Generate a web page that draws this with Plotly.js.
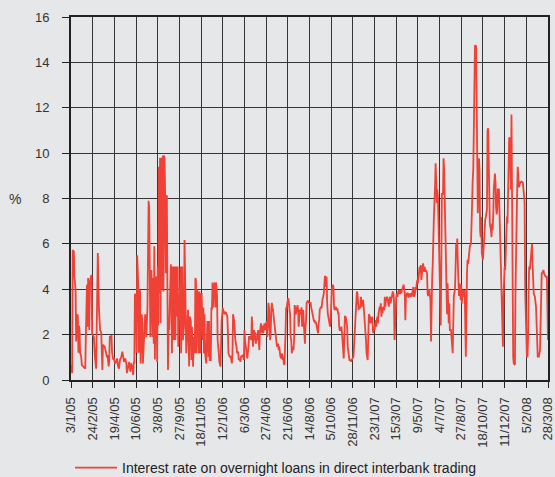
<!DOCTYPE html>
<html>
<head>
<meta charset="utf-8">
<script src="https://cdn.plot.ly/plotly-3.0.1.min.js"></script>
<style>
html,body{margin:0;padding:0;background:#e6e7e8;}
#chart{width:555px;height:477px;}
</style>
</head>
<body>
<div id="chart"></div>
<script>
// Trading-day index (0 = 3/1/05, 836 = 28/3/08)
const tradingDay = [0,2,3,5,6,8,9,11,12,13,14,15,16,18,19,22,25,26,27,28,29,30,32,33,35,36,37,40,42,44,45,46,47,49,51,53,55,56,59,61,63,64,66,67,68,71,72,74,75,77,79,81,82,84,86,88,90,91,93,95,97,98,100,102,104,105,107,109,110,111,112,114,115,116,118,119,121,122,124,125,126,128,130,131,132,134,136,137,138,139,141,143,144,145,146,147,149,150,151,152,153,154,155,156,157,158,159,160,161,162,163,164,165,166,167,168,169,170,171,172,173,174,175,177,178,180,181,183,184,186,187,188,190,192,193,195,196,198,199,201,202,205,207,208,210,211,212,214,215,217,218,219,220,221,222,224,225,226,227,228,229,231,232,233,234,235,237,239,240,241,242,243,245,246,247,248,249,250,252,253,254,255,256,257,259,260,262,263,264,266,267,269,271,274,275,276,278,280,281,282,283,284,286,287,288,290,291,293,294,296,297,298,301,303,304,305,307,309,311,312,314,316,317,318,319,321,322,323,324,325,326,328,329,330,331,332,333,335,336,337,338,339,340,342,343,344,345,346,347,349,350,351,352,353,354,356,357,358,359,360,361,363,364,365,366,367,369,370,371,372,373,374,376,377,378,379,380,381,383,384,385,386,387,389,390,391,392,393,394,396,397,398,399,400,401,403,404,405,406,407,408,410,411,412,413,414,415,417,418,420,421,424,425,426,427,428,429,431,432,433,434,435,436,438,439,440,441,442,443,445,446,447,448,449,450,452,453,454,455,456,457,459,460,461,462,463,464,466,467,468,469,470,471,473,474,475,476,477,478,480,481,482,483,484,485,487,488,490,491,492,494,495,496,497,498,500,501,502,503,504,505,507,508,509,510,511,512,513,515,516,517,518,519,520,522,524,525,527,528,529,530,531,532,534,535,536,537,538,539,541,542,543,544,545,546,547,549,550,551,552,553,554,556,557,558,559,560,561,563,564,565,566,567,569,570,571,572,573,575,576,577,578,579,580,582,583,584,585,586,587,589,590,591,592,593,594,596,597,598,599,600,601,603,604,605,606,607,608,610,611,612,613,614,615,617,618,619,620,621,622,624,625,626,628,630,631,632,633,634,635,636,638,639,640,641,642,643,645,646,647,648,649,650,652,653,654,655,656,657,659,660,661,662,663,664,666,667,668,669,670,671,673,674,675,676,677,678,680,681,682,683,684,685,687,688,689,690,691,692,694,695,696,697,698,699,701,702,703,704,705,706,708,709,710,711,712,713,715,716,717,718,719,720,722,723,724,725,726,727,729,730,731,732,733,734,736,737,738,739,740,741,743,744,745,746,747,748,750,751,752,753,754,755,757,758,759,760,761,762,764,765,766,767,768,769,771,772,773,774,775,776,778,779,780,781,782,783,785,786,787,788,789,790,792,793,794,795,796,797,799,800,801,802,803,804,806,807,808,809,810,811,813,814,815,816,817,818,820,821,822,823,824,825,827,828,829,830,831,832,834,835,836];

// Overnight interbank rate, %
const overnightRate = [0.66,0.3,5.73,5.66,4.56,4.0,1.7,2.9,2.8,1.2,2.4,2.2,1.2,1.0,0.66,0.6,0.5,1.9,3.6,4.2,2.35,4.5,2.2,4.3,4.56,4.63,2.06,1.9,1.0,0.5,2.2,4.85,5.6,3.1,2.2,2.1,0.44,1.55,1.47,1.25,1.0,1.1,0.6,0.8,1.9,1.94,1.2,0.9,1.0,0.73,0.8,0.95,0.66,0.5,0.9,1.0,1.25,1.1,0.8,0.95,0.73,0.3,0.6,0.8,0.37,0.73,0.6,0.22,0.8,0.73,3.8,3.7,1.2,5.5,4.1,1.2,4.0,0.73,2.9,2.5,0.73,2.06,2.9,2.35,1.9,3.2,7.9,7.6,5.1,1.9,4.85,1.9,4.5,1.6,5.9,0.9,4.56,3.7,0.8,5.0,2.4,9.4,3.8,9.8,2.5,9.8,9.1,4.0,9.9,3.9,9.9,9.8,8.2,4.7,8.1,8.1,4.0,0.44,2.35,2.2,3.2,4.2,5.1,1.18,5.0,1.76,5.0,1.76,5.0,2.8,5.0,1.47,2.9,5.0,1.18,5.0,1.76,2.35,6.17,3.2,1.18,3.1,0.6,2.8,2.6,0.88,2.35,0.59,1.9,1.18,4.5,4.4,1.18,4.0,3.8,1.18,3.9,2.9,1.18,3.8,3.8,1.76,3.2,1.18,2.9,1.18,0.73,2.6,2.2,1.03,2.6,0.88,0.88,3.2,3.1,4.3,3.2,4.1,4.3,3.2,4.3,4.1,3.7,1.76,1.18,0.8,0.59,1.47,2.6,3.16,3.1,2.9,3.0,2.8,2.1,1.18,1.03,1.03,0.88,0.73,1.18,2.9,2.6,2.06,1.76,1.47,1.18,1.25,0.88,0.95,0.8,1.03,1.1,0.88,2.2,1.76,1.18,0.95,1.47,1.9,1.9,1.76,2.8,1.76,1.47,2.2,1.76,2.1,1.6,1.9,1.76,2.2,1.47,1.32,2.06,2.35,2.5,2.06,2.4,2.06,2.35,2.5,2.2,2.6,2.6,1.9,2.35,3.4,3.2,1.76,2.06,3.1,3.4,3.2,3.1,2.6,2.35,1.9,1.76,1.47,1.47,1.6,1.32,1.47,1.18,1.03,0.95,1.18,0.88,1.03,0.73,0.66,2.06,3.2,3.1,3.4,3.5,3.6,3.1,2.9,1.9,1.76,1.18,1.47,1.32,1.76,3.3,3.2,2.9,3.2,3.3,3.1,2.35,2.65,3.1,2.9,3.2,2.35,2.9,3.1,2.5,1.6,2.35,2.65,3.4,3.5,3.5,3.4,3.4,3.4,3.2,2.8,2.65,2.57,2.65,2.5,2.57,2.35,2.13,2.06,2.5,2.65,3.1,3.23,3.16,3.5,3.6,3.67,3.8,4.55,4.55,4.1,4.55,3.4,2.94,2.64,2.5,2.35,2.57,3.23,3.97,4.2,4.1,3.23,3.08,3.16,3.23,3.08,3.16,2.94,2.94,2.35,2.2,2.2,2.35,2.06,1.47,0.95,0.95,2.79,2.79,2.72,2.57,2.35,1.47,0.95,0.88,0.88,0.8,0.88,0.95,1.03,1.47,2.13,2.64,3.38,3.9,3.82,3.38,3.08,3.23,3.16,3.67,3.31,3.23,3.38,3.53,3.23,2.64,2.35,1.76,1.18,0.88,0.88,2.9,2.79,2.5,2.64,2.79,2.2,2.06,2.35,2.2,2.64,2.35,2.64,2.79,2.5,2.94,3.23,3.08,3.38,2.79,3.23,2.94,3.23,3.08,3.67,3.23,3.53,3.53,3.67,3.38,3.23,3.53,3.67,3.38,3.5,3.82,3.9,3.82,3.53,1.76,3.67,3.67,3.82,3.67,3.82,3.97,3.82,3.82,3.97,3.82,3.97,4.1,4.2,4.0,3.82,2.64,3.67,3.82,3.82,3.67,3.67,3.82,3.67,3.82,3.67,3.82,3.97,4.1,3.67,3.82,4.1,3.97,4.26,4.41,4.26,4.9,4.99,4.77,5.07,4.41,4.77,5.14,4.99,4.77,4.99,4.77,4.85,4.7,3.82,3.7,4.0,3.5,1.7,4.26,4.5,5.1,6.6,7.2,8.5,9.55,8.8,7.8,8.4,8.1,5.9,3.97,2.5,2.4,5.1,8.2,8.2,9.77,9.25,8.1,6.3,4.85,2.9,4.26,3.23,2.5,3.38,2.2,2.2,1.6,1.3,1.18,2.5,3.7,4.0,5.7,6.0,5.7,6.24,5.1,3.7,4.26,3.7,3.53,4.2,3.38,3.97,3.67,3.67,3.97,2.64,1.03,4.7,5.3,5.1,5.4,5.6,5.9,6.0,6.6,7.8,8.8,9.25,11.0,14.76,14.7,14.7,11.5,9.84,7.35,9.77,9.25,6.6,6.3,7.2,5.6,5.3,5.9,6.3,6.9,7.05,7.2,7.5,11.0,11.1,9.84,7.6,6.9,6.6,6.3,6.9,6.6,7.2,8.4,9.1,8.7,7.6,7.3,7.5,8.4,8.4,7.5,6.0,4.55,3.97,3.4,1.47,3.67,4.85,5.0,4.85,6.2,7.2,6.9,8.4,8.5,10.7,10.6,8.4,11.7,6.9,2.8,1.03,0.73,0.66,3.97,6.3,7.2,8.4,9.4,8.5,8.6,8.74,8.7,8.74,8.74,8.7,8.4,7.9,7.8,3.97,2.5,1.03,1.03,1.76,3.97,5.0,4.85,5.4,5.95,6.0,5.1,4.1,3.8,3.67,3.38,3.23,2.5,1.18,1.03,1.03,1.18,1.32,2.5,4.55,4.7,4.77,4.85,4.7,4.63,4.55,4.55,4.55,2.5,1.76];

const tickDays = [0,38,76,114,152,190,228,266,304,342,380,418,456,494,532,570,608,646,684,722,760,798,836];
const tickLabels = ['3/1/05','24/2/05','19/4/05','10/6/05','3/8/05','27/9/05','18/11/05','12/1/06','6/3/06','27/4/06','21/6/06','14/8/06','5/10/06','28/11/06','23/1/07','15/3/07','9/5/07','4/7/07','27/8/07','18/10/07','11/12/07','5/2/08','28/3/08'];
const seriesName = 'Interest rate on overnight loans in direct interbank trading';

const font = 'Liberation Sans, Arial, Helvetica, sans-serif';
const bg = '#e6e7e8';
const grid = '#353535';

const data = [{
  x: tradingDay,
  y: overnightRate,
  type: 'scatter',
  mode: 'lines',
  name: seriesName,
  line: {color: '#ef4136', width: 1.8},
  hoverinfo: 'skip'
}];

const layout = {
  width: 555, height: 477,
  margin: {l: 71, r: 7, t: 17, b: 97},
  paper_bgcolor: bg,
  plot_bgcolor: bg,
  font: {family: font, size: 13, color: '#333'},
  showlegend: true,
  legend: {
    orientation: 'h',
    xref: 'container', yref: 'container',
    x: 70/555, xanchor: 'left',
    y: 9/477, yanchor: 'middle',
    itemwidth: 42,
    font: {family: font, size: 14, color: '#222'},
    bgcolor: 'rgba(0,0,0,0)'
  },
  xaxis: {
    range: [0, 836],
    tickmode: 'array',
    tickvals: tickDays,
    ticktext: tickLabels,
    tickangle: -90,
    ticks: 'outside', ticklen: 6, tickcolor: '#222', tickwidth: 1,
    ticklabelstandoff: 4,
    ticklabeloverflow: 'allow',
    showgrid: true, gridcolor: grid, gridwidth: 1,
    showline: true, linecolor: '#222', linewidth: 2, mirror: true,
    zeroline: false,
    tickfont: {family: font, size: 13, color: '#333'},
    fixedrange: true
  },
  yaxis: {
    range: [0, 16],
    tickmode: 'array',
    tickvals: [0,2,4,6,8,10,12,14,16],
    ticktext: ['0','2','4','6','8','10','12','14','16'],
    ticks: 'outside', ticklen: 7, tickcolor: '#222', tickwidth: 1,
    ticklabelstandoff: 10,
    showgrid: true, gridcolor: grid, gridwidth: 1,
    showline: true, linecolor: '#222', linewidth: 2, mirror: true,
    zeroline: false,
    tickfont: {family: font, size: 13, color: '#333'},
    fixedrange: true
  },
  annotations: [{
    text: '%',
    xref: 'paper', yref: 'y',
    x: (15 - 71) / 477, y: 8,
    xanchor: 'center', yanchor: 'middle',
    showarrow: false,
    font: {family: font, size: 14, color: '#333'}
  }]
};

Plotly.newPlot('chart', data, layout, {displayModeBar: false, staticPlot: true});
</script>
</body>
</html>
